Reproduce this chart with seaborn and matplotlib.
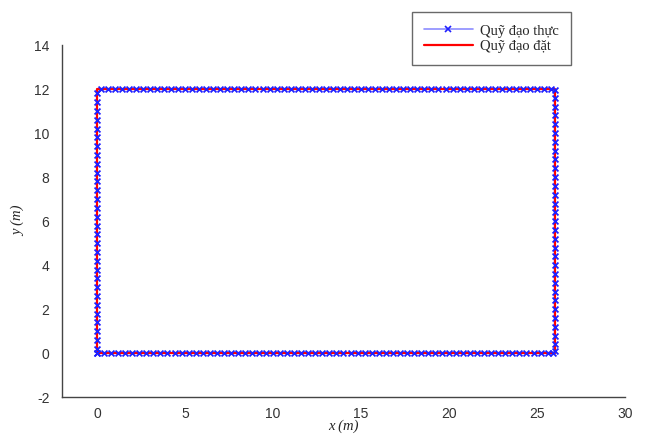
import matplotlib
matplotlib.use("Agg")
import matplotlib.pyplot as plt
from matplotlib.lines import Line2D
import seaborn as sns
import numpy as np
import pandas as pd

# ---- data ----
# set (reference) trajectory: rectangle corners
set_x = [0, 26, 26, 0, 0]
set_y = [0, 0, 12, 12, 0]

# actual trajectory, sampled points along each side
bottom_x = [0.0, 0.4, 0.8, 1.2, 1.6, 2.0, 2.4, 2.8, 3.2, 3.6, 4.0, 4.4, 4.8, 5.2, 5.6, 6.0,
            6.4, 6.8, 7.2, 7.6, 8.0, 8.4, 8.8, 9.2, 9.6, 10.0, 10.4, 10.8, 11.2, 11.6, 12.0,
            12.4, 12.8, 13.2, 13.6, 14.0, 14.4, 14.8, 15.2, 15.6, 16.0, 16.4, 16.8, 17.2,
            17.6, 18.0, 18.4, 18.8, 19.2, 19.6, 20.0, 20.4, 20.8, 21.2, 21.6, 22.0, 22.4,
            22.8, 23.2, 23.6, 24.0, 24.4, 24.8, 25.2, 25.6, 25.9]
bottom_y_level = 0.0
right_y = [0.1, 0.4, 0.8, 1.2, 1.6, 2.0, 2.4, 2.8, 3.2, 3.6, 4.0, 4.4, 4.8, 5.2, 5.6, 6.0,
           6.4, 6.8, 7.2, 7.6, 8.0, 8.4, 8.8, 9.2, 9.6, 10.0, 10.4, 10.8, 11.2, 11.6, 11.95]
right_x_level = 26.0
top_x = [25.8, 25.4, 25.0, 24.6, 24.2, 23.8, 23.4, 23.0, 22.6, 22.2, 21.8, 21.4, 21.0, 20.6,
         20.2, 19.8, 19.4, 19.0, 18.6, 18.2, 17.8, 17.4, 17.0, 16.6, 16.2, 15.8, 15.4, 15.0,
         14.6, 14.2, 13.8, 13.4, 13.0, 12.6, 12.2, 11.8, 11.4, 11.0, 10.6, 10.2, 9.8, 9.4,
         9.0, 8.6, 8.2, 7.8, 7.4, 7.0, 6.6, 6.2, 5.8, 5.4, 5.0, 4.6, 4.2, 3.8, 3.4, 3.0, 2.6,
         2.2, 1.8, 1.4, 1.0, 0.6, 0.2]
top_y_level = 12.0
left_y = [11.8, 11.4, 11.0, 10.6, 10.2, 9.8, 9.4, 9.0, 8.6, 8.2, 7.8, 7.4, 7.0, 6.6, 6.2,
          5.8, 5.4, 5.0, 4.6, 4.2, 3.8, 3.4, 3.0, 2.6, 2.2, 1.8, 1.4, 1.0, 0.6, 0.2, 0.0]
left_x_level = 0.0

x_ticks = [0, 5, 10, 15, 20, 25, 30]
y_ticks = [-2, 0, 2, 4, 6, 8, 10, 12, 14]

legend_labels = ["Quỹ đạo thực", "Quỹ đạo đặt"]
x_label = "x (m)"
y_label = "y (m)"

# ---- build tables ----
act_x = (list(bottom_x) + [right_x_level] * len(right_y) + list(top_x)
         + [left_x_level] * len(left_y))
act_y = ([bottom_y_level] * len(bottom_x) + list(right_y) + [top_y_level] * len(top_x)
         + list(left_y))
act = pd.DataFrame({"x": act_x, "y": act_y})
ref = pd.DataFrame({"x": set_x, "y": set_y})

sns.set_theme(style="white")
plt.rcParams["font.family"] = ["Liberation Sans", "DejaVu Sans"]
plt.rcParams["axes.unicode_minus"] = False

fig = plt.figure(figsize=(6.45, 4.37), dpi=100)
ax = fig.add_axes([0.096, 0.091, 0.873, 0.806])

blue_line = "#8c8cff"
marker_blue = "#2020ff"

# actual line (light blue), under red
sns.lineplot(data=act, x="x", y="y", sort=False, estimator=None, ax=ax,
             color=blue_line, lw=1.2, zorder=2)
# set line (red)
sns.lineplot(data=ref, x="x", y="y", sort=False, estimator=None, ax=ax,
             color="red", lw=1.6, zorder=3)
# actual markers on top
sns.scatterplot(data=act, x="x", y="y", ax=ax, marker="x", color=marker_blue,
                s=18, linewidth=1.3, zorder=4)

ax.set_xlim(-2, 30)
ax.set_ylim(-2, 14)
ax.set_xticks(x_ticks)
ax.set_yticks(y_ticks)
ax.tick_params(direction="in", length=5, width=1, colors="#444444",
               labelsize=10, labelcolor="#333333")
ax.tick_params(axis="y", pad=9)
ax.tick_params(axis="x", pad=7)
for s in ["top", "right"]:
    ax.spines[s].set_visible(False)
for s in ["left", "bottom"]:
    ax.spines[s].set_color("#444444")
    ax.spines[s].set_linewidth(1.0)

ax.set_xlabel(x_label, family=["Liberation Serif"], style="italic", fontsize=10.5,
              labelpad=-1)
ax.set_ylabel(y_label, family=["Liberation Serif"], style="italic", fontsize=10.5,
              labelpad=6)

handles = [
    Line2D([0], [0], color=blue_line, lw=1.2, marker="x", markersize=4,
           markeredgecolor=marker_blue, markeredgewidth=1.2),
    Line2D([0], [0], color="red", lw=1.6),
]
leg = fig.legend(handles, legend_labels, loc="upper left",
                 bbox_to_anchor=(412 / 645, 1 - 12 / 437),
                 prop={"family": "Liberation Serif", "size": 10.5},
                 frameon=True, fancybox=False, edgecolor="#444444",
                 handlelength=3.3, handletextpad=0.5, borderpad=0.85,
                 borderaxespad=0, labelspacing=0.15)
leg.get_frame().set_linewidth(1.0)

fig.savefig("out.png", dpi=100)
